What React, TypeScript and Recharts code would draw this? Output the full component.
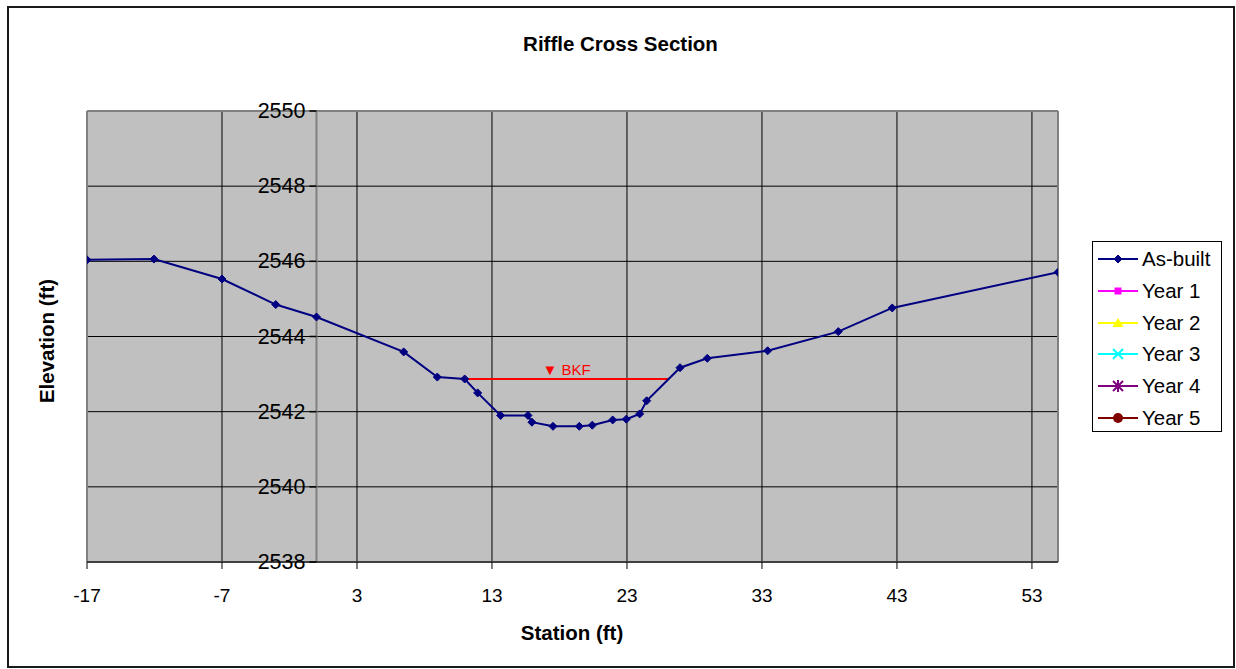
import React from 'react';
import {
  LineChart,
  Line,
  XAxis,
  YAxis,
  CartesianGrid,
  ReferenceLine,
  ReferenceDot,
} from 'recharts';

// Surveyed cross-section: station (ft) and as-built elevation (ft)
const stations = [
  -17, -12.04, -7.0, -3.02, 0, 6.46, 8.95, 10.98, 11.94, 13.64, 15.67, 15.96, 17.52,
  19.47, 20.43, 21.94, 22.95, 23.94, 24.46, 26.93, 28.95, 33.42, 38.65, 42.65, 54.93,
];
const asBuilt = [
  2546.04, 2546.06, 2545.53, 2544.85, 2544.52, 2543.59, 2542.92, 2542.87, 2542.5, 2541.9,
  2541.9, 2541.72, 2541.61, 2541.61, 2541.64, 2541.78, 2541.8, 2541.94, 2542.29, 2543.17,
  2543.42, 2543.62, 2544.13, 2544.76, 2545.71,
];

// Monitoring years not yet surveyed
const year1: { station: number; value: number }[] = [];
const year2: { station: number; value: number }[] = [];
const year3: { station: number; value: number }[] = [];
const year4: { station: number; value: number }[] = [];
const year5: { station: number; value: number }[] = [];

// Bankfull stage
const bkfElevation = 2542.87;
const bkfStart = 10.98;
const bkfEnd = 26.06;

const xTicks = [-17, -7, 3, 13, 23, 33, 43, 53];
const yTicks = [2538, 2540, 2542, 2544, 2546, 2548, 2550];
const xDomain: [number, number] = [-17, 54.93];
const yDomain: [number, number] = [2538, 2550];

const FONT = "'Liberation Sans', Arial, Helvetica, sans-serif";

const data = stations.map((s, i) => ({ station: s, asBuilt: asBuilt[i] }));

type Marker = 'diamond' | 'square' | 'triangle' | 'x' | 'star' | 'circle';

const series: { name: string; color: string; marker: Marker; data: any[] }[] = [
  { name: 'As-built', color: '#000080', marker: 'diamond', data },
  { name: 'Year 1', color: '#FF00FF', marker: 'square', data: year1 },
  { name: 'Year 2', color: '#FFFF00', marker: 'triangle', data: year2 },
  { name: 'Year 3', color: '#00FFFF', marker: 'x', data: year3 },
  { name: 'Year 4', color: '#800080', marker: 'star', data: year4 },
  { name: 'Year 5', color: '#800000', marker: 'circle', data: year5 },
];

function MarkerShape({ kind, cx, cy, color }: { kind: Marker; cx: number; cy: number; color: string }) {
  switch (kind) {
    case 'diamond':
      return (
        <polygon
          points={`${cx},${cy - 4} ${cx + 4},${cy} ${cx},${cy + 4} ${cx - 4},${cy}`}
          fill={color}
          stroke={color}
        />
      );
    case 'square':
      return <rect x={cx - 3.5} y={cy - 3.5} width={7} height={7} fill={color} />;
    case 'triangle':
      return (
        <polygon points={`${cx},${cy - 5} ${cx + 5.5},${cy + 4} ${cx - 5.5},${cy + 4}`} fill={color} />
      );
    case 'x':
      return (
        <g stroke={color} strokeWidth={2}>
          <line x1={cx - 5} y1={cy - 5} x2={cx + 5} y2={cy + 5} />
          <line x1={cx - 5} y1={cy + 5} x2={cx + 5} y2={cy - 5} />
        </g>
      );
    case 'star':
      return (
        <g stroke={color} strokeWidth={2}>
          <line x1={cx - 5} y1={cy - 5} x2={cx + 5} y2={cy + 5} />
          <line x1={cx - 5} y1={cy + 5} x2={cx + 5} y2={cy - 5} />
          <line x1={cx} y1={cy - 6} x2={cx} y2={cy + 6} />
        </g>
      );
    case 'circle':
    default:
      return <circle cx={cx} cy={cy} r={5} fill={color} />;
  }
}

const renderDiamond = (props: any) => {
  const { cx, cy, index } = props;
  if (cx == null || cy == null) return <g key={`d-${index}`} />;
  return (
    <g key={`d-${index}`}>
      <MarkerShape kind="diamond" cx={cx} cy={cy} color="#000080" />
    </g>
  );
};

// Station tick labels
const StationTick = (props: any) => {
  const { x, y, payload } = props;
  return (
    <text
      x={x}
      y={y}
      dy={14}
      textAnchor="middle"
      fontSize={19}
      fontFamily={FONT}
      fill="#000"
    >
      {payload.value}
    </text>
  );
};

// Elevation axis drawn at station 0, inside the plot
const renderYTick = (label: string) => (props: any) => {
  const { cx, cy } = props;
  return (
    <g>
      <line x1={cx - 7} y1={cy} x2={cx} y2={cy} stroke="#000" strokeWidth={1.5} />
      <text
        x={cx - 11}
        y={cy}
        textAnchor="end"
        dominantBaseline="central"
        fontSize={21.5}
        fontFamily={FONT}
        fill="#000"
      >
        {label}
      </text>
    </g>
  );
};

function LegendBox() {
  return (
    <div
      style={{
        position: 'absolute',
        left: 1092,
        top: 241,
        width: 130,
        height: 191,
        border: '1px solid #000',
        background: '#fff',
        boxSizing: 'border-box',
        fontFamily: FONT,
        fontSize: 20.5,
      }}
    >
      {series.map((s, i) => (
        <div
          key={s.name}
          style={{ position: 'absolute', left: 0, top: 2 + i * 31.8, height: 30, width: 128, display: 'flex', alignItems: 'center' }}
        >
          <svg width={46} height={30} style={{ display: 'block' }}>
            <line x1={5} y1={15} x2={45} y2={15} stroke={s.color} strokeWidth={2} />
            <MarkerShape kind={s.marker} cx={25} cy={15} color={s.color} />
          </svg>
          <span style={{ marginLeft: 3, lineHeight: '30px', color: '#000' }}>{s.name}</span>
        </div>
      ))}
    </div>
  );
}

export default function App() {
  return (
    <div style={{ position: 'absolute', left: 0, top: 0, width: 1236, height: 669, background: '#fff' }}>
      <div
        style={{
          position: 'absolute',
          left: 7,
          top: 6,
          width: 1228,
          height: 662,
          border: '2px solid #1a1a1a',
          boxSizing: 'border-box',
        }}
      />
      <LineChart
        width={1236}
        height={669}
        data={data}
        margin={{ top: 111, right: 178, bottom: 67, left: 87 }}
        style={{ position: 'absolute', left: 0, top: 0 }}
      >
        <CartesianGrid
          stroke="#000"
          strokeWidth={1}
          fill="#C0C0C0"
          fillOpacity={1}
          horizontal={false}
          verticalValues={xTicks}
        />
        <XAxis
          dataKey="station"
          type="number"
          domain={xDomain}
          ticks={xTicks}
          allowDataOverflow
          height={40}
          tickSize={7}
          tickMargin={19}
          stroke="#404040"
          axisLine={{ stroke: '#404040', strokeWidth: 2 }}
          tickLine={{ stroke: '#000', strokeWidth: 1 }}
          tick={<StationTick />}
        />
        <YAxis
          type="number"
          domain={yDomain}
          ticks={yTicks}
          width={0}
          tick={false}
          tickLine={false}
          axisLine={false}
          allowDataOverflow
        />
        {/* horizontal gridlines */}
        {yTicks.slice(1, -1).map((v) => (
          <ReferenceLine key={`hg-${v}`} y={v} stroke="#000" strokeWidth={1} />
        ))}
        {/* plot frame */}
        <ReferenceLine x={xDomain[1]} stroke="#808080" strokeWidth={2} ifOverflow="visible" />
        <ReferenceLine x={xDomain[0]} stroke="#808080" strokeWidth={2} ifOverflow="visible" />
        <ReferenceLine y={yDomain[1]} stroke="#808080" strokeWidth={2} ifOverflow="visible" />
        {/* elevation axis at station 0 */}
        <ReferenceLine x={0} stroke="#808080" strokeWidth={2} />
        {yTicks.map((v) => (
          <ReferenceDot
            key={`yt-${v}`}
            x={0}
            y={v}
            r={0}
            ifOverflow="visible"
            shape={renderYTick(String(v))}
          />
        ))}
        <ReferenceLine
          segment={[
            { x: bkfStart, y: bkfElevation },
            { x: bkfEnd, y: bkfElevation },
          ]}
          stroke="#FF0000"
          strokeWidth={2}
          label={{
            value: '▼ BKF',
            position: 'top',
            fill: '#FF0000',
            fontSize: 15,
            fontFamily: FONT,
            offset: 4,
          }}
        />
        {series.slice(1).map((s) => (
          <Line
            key={s.name}
            data={s.data}
            dataKey="value"
            name={s.name}
            stroke={s.color}
            strokeWidth={2}
            dot={false}
            isAnimationActive={false}
          />
        ))}
        <Line
          dataKey="asBuilt"
          name="As-built"
          stroke="#000080"
          strokeWidth={2}
          dot={renderDiamond}
          activeDot={false}
          isAnimationActive={false}
        />
      </LineChart>
      <div
        style={{
          position: 'absolute',
          left: 0,
          width: 1241,
          top: 32,
          textAlign: 'center',
          fontFamily: FONT,
          fontWeight: 'bold',
          fontSize: 20.5,
          color: '#000',
        }}
      >
        Riffle Cross Section
      </div>
      <div
        style={{
          position: 'absolute',
          left: 372,
          width: 400,
          top: 621,
          textAlign: 'center',
          fontFamily: FONT,
          fontWeight: 'bold',
          fontSize: 20.5,
          color: '#000',
        }}
      >
        Station (ft)
      </div>
      <div
        style={{
          position: 'absolute',
          left: 47 - 100,
          top: 341 - 12,
          width: 200,
          height: 24,
          lineHeight: '24px',
          textAlign: 'center',
          transform: 'rotate(-90deg)',
          fontFamily: FONT,
          fontWeight: 'bold',
          fontSize: 20.5,
          color: '#000',
        }}
      >
        Elevation (ft)
      </div>
      <LegendBox />
    </div>
  );
}
